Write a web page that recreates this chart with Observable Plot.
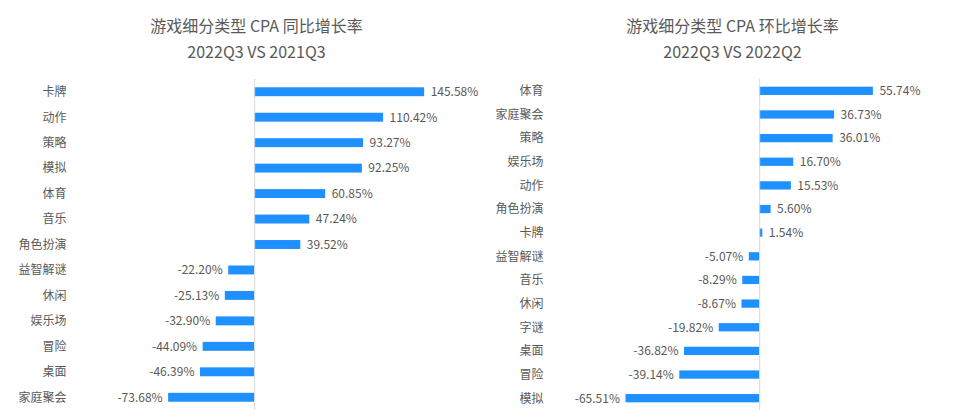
<!DOCTYPE html>
<html>
<head>
<meta charset="utf-8">
<script src="https://cdn.jsdelivr.net/npm/d3@7"></script>
<script src="https://cdn.jsdelivr.net/npm/@observablehq/plot@0.6"></script>
<style>
  html, body { margin: 0; padding: 0; background: #fff; }
  #wrap { display: flex; width: 972px; height: 420px; font-family: "Noto Sans CJK SC", "Noto Sans", sans-serif; }
  .panel { width: 486px; }
  .title { text-align: center; color: #595959; font-size: 16px; line-height: 26px; padding-top: 12px; height: 52px; }
</style>
</head>
<body>
<div id="wrap">
  <div class="panel" id="left">
    <div class="title" style="padding-left:27px">游戏细分类型 CPA 同比增长率<br>2022Q3 VS 2021Q3</div>
  </div>
  <div class="panel" id="right">
    <div class="title" style="padding-left:7px">游戏细分类型 CPA 环比增长率<br>2022Q3 VS 2022Q2</div>
  </div>
</div>
<script>
const leftCategories = ["卡牌","动作","策略","模拟","体育","音乐","角色扮演","益智解谜","休闲","娱乐场","冒险","桌面","家庭聚会"];
const leftValues = [145.58,110.42,93.27,92.25,60.85,47.24,39.52,-22.20,-25.13,-32.90,-44.09,-46.39,-73.68];

const rightCategories = ["体育","家庭聚会","策略","娱乐场","动作","角色扮演","卡牌","益智解谜","音乐","休闲","字谜","桌面","冒险","模拟"];
const rightValues = [55.74,36.73,36.01,16.70,15.53,5.60,1.54,-5.07,-8.29,-8.67,-19.82,-36.82,-39.14,-65.51];

function panel(cats, vals, xDomain, marginLeft) {
  const data = cats.map((c, i) => ({cat: c, v: vals[i]}));
  const fmt = d => d.v.toFixed(2) + "%";
  return Plot.plot({
    width: 486,
    height: 356,
    marginTop: 15,
    marginBottom: 10,
    marginLeft: marginLeft,
    marginRight: 10,
    style: {fontFamily: '"Noto Sans CJK SC", "Noto Sans", sans-serif', fontSize: "12px", color: "#595959", background: "transparent"},
    x: {domain: xDomain, axis: null},
    y: {domain: cats, paddingInner: 0.65, paddingOuter: 0.325, round: false, label: null},
    marks: [
      Plot.barX(data, {x: "v", y: "cat", fill: "#1e90ff"}),
      Plot.ruleX([0], {stroke: "#d9d9d9", strokeWidth: 1}),
      Plot.text(data.filter(d => d.v >= 0), {x: "v", y: "cat", text: fmt, textAnchor: "start", dx: 6, fill: "#595959", fontSize: 12}),
      Plot.text(data.filter(d => d.v < 0), {x: "v", y: "cat", text: fmt, textAnchor: "end", dx: -6, fill: "#595959", fontSize: 12}),
      Plot.axisY({tickSize: 0, tickPadding: 6, label: null, fontSize: 12})
    ]
  });
}

document.getElementById("left").appendChild(panel(leftCategories, leftValues, [-156, 190], 72));
document.getElementById("right").appendChild(panel(rightCategories, rightValues, [-103, 99.4], 63));
</script>
</body>
</html>
